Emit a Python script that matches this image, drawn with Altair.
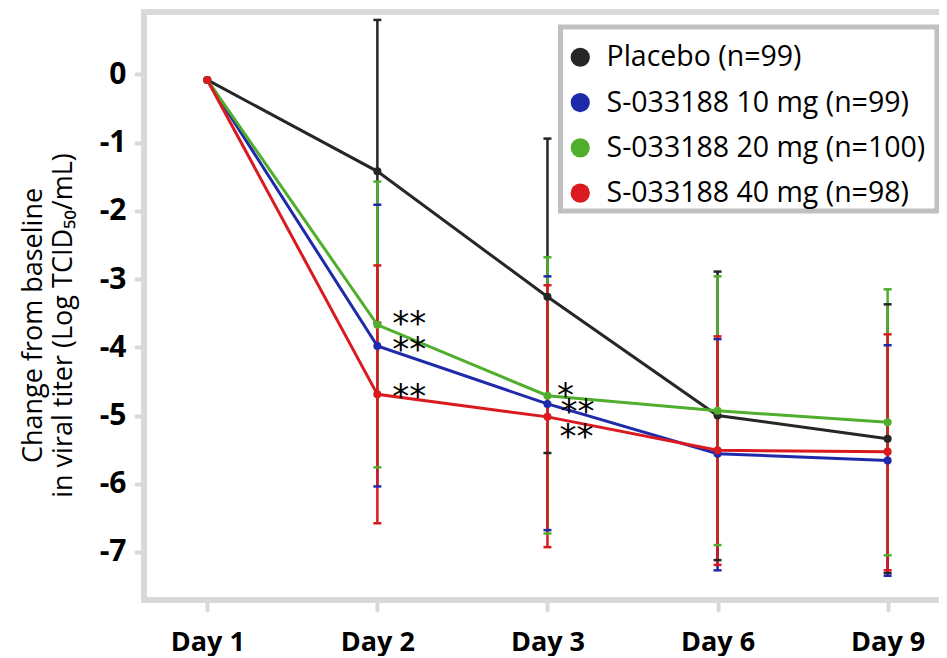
import json
import altair as alt
import pandas as pd

days = ["Day 1", "Day 2", "Day 3", "Day 6", "Day 9"]
groups = ["Placebo (n=99)", "S-033188 10 mg (n=99)", "S-033188 20 mg (n=100)", "S-033188 40 mg (n=98)"]
colors = ["#262626", "#1f2aab", "#4fae2b", "#da1a1f"]

placebo_mean = [-0.08, -1.42, -3.26, -5.00, -5.34]
placebo_lo = [None, -3.64, -5.55, -7.12, -7.31]
placebo_hi = [None, 0.80, -0.94, -2.89, -3.37]

mg10_mean = [-0.08, -3.98, -4.83, -5.56, -5.66]
mg10_lo = [None, -6.04, -6.68, -7.27, -7.35]
mg10_hi = [None, -1.91, -2.96, -3.88, -3.97]

mg20_mean = [-0.08, -3.67, -4.71, -4.93, -5.10]
mg20_lo = [None, -5.76, -6.73, -6.90, -7.05]
mg20_hi = [None, -1.57, -2.68, -2.96, -3.15]

mg40_mean = [-0.08, -4.69, -5.02, -5.51, -5.53]
mg40_lo = [None, -6.58, -6.93, -7.19, -7.27]
mg40_hi = [None, -2.80, -3.09, -3.84, -3.81]

y_ticks = [-7, -6, -5, -4, -3, -2, -1, 0]

ann_day = ["Day 2", "Day 2", "Day 2", "Day 3", "Day 3", "Day 3"]
ann_group = [groups[2], groups[1], groups[3], groups[2], groups[1], groups[3]]
ann_text = ["**", "**", "**", "*", "**", "**"]
# label offsets in pixels (style only)
ann_offsets = [(32, 10), (32, 15.5), (32, 14), (18, 11.5), (30, 19.5), (29, 31.5)]

series = [
    (groups[0], placebo_mean, placebo_lo, placebo_hi),
    (groups[1], mg10_mean, mg10_lo, mg10_hi),
    (groups[2], mg20_mean, mg20_lo, mg20_hi),
    (groups[3], mg40_mean, mg40_lo, mg40_hi),
]

rows = []
for gi, (g, mean, lo, hi) in enumerate(series):
    for i, d in enumerate(days):
        rows.append({"group": g, "order": gi, "day": d, "idx": i,
                     "mean": mean[i], "lo": lo[i], "hi": hi[i]})
df = pd.DataFrame(rows)
err = df.dropna(subset=["lo", "hi"])

W, H = 795, 588
xscale = alt.Scale(domain=[-0.372, 4.302], nice=False, zero=False)
yscale = alt.Scale(domain=[-7.705, 0.916], nice=False, zero=False)
cscale = alt.Scale(domain=groups, range=colors)

x_axis = alt.Axis(values=list(range(len(days))), labelExpr=f"{json.dumps(days)}[datum.value]",
                  title=None, domain=False, grid=False, labelFont="Open Sans", labelFontWeight="bold",
                  labelFontSize=27, labelColor="black", tickColor="#d9d9d9", tickWidth=4,
                  tickSize=10, tickCap="round", labelPadding=19)
y_axis = alt.Axis(values=y_ticks, labelExpr="'' + datum.value",
                  title=["Change from baseline", "in viral titer (Log TCID\u2085\u2080/mL)"],
                  domain=False, grid=False, labelFont="Open Sans", labelFontWeight="bold",
                  labelFontSize=30, labelColor="black", tickColor="#d9d9d9", tickWidth=4,
                  tickSize=8, tickCap="round", labelPadding=10,
                  titleFont="Open Sans", titleFontSize=27, titleFontWeight="normal",
                  titleColor="black", titleAngle=270, titleBaseline="top", titleAlign="center",
                  titleX=-124, titleY=313, titleLineHeight=30)

legend = alt.Legend(title=None, orient="none", legendX=422, legendY=31,
                    symbolType="circle", symbolSize=370, labelFont="Open Sans",
                    labelFontSize=28.5, labelColor="black", labelLimit=500,
                    padding=0, rowPadding=16.3, labelOffset=12,
                    symbolStrokeWidth=0, symbolOpacity=1)
C = alt.Color("group:N", scale=cscale, sort=groups, legend=legend)

X = alt.X("idx:Q", scale=xscale, axis=x_axis)
Y = alt.Y("mean:Q", scale=yscale, axis=y_axis)

rules = alt.Chart(err).mark_rule(strokeWidth=2.5, opacity=1).encode(
    x=X, y=alt.Y("lo:Q", scale=yscale, axis=y_axis), y2="hi:Q",
    color=C, order="order:Q")
tick_lo = alt.Chart(err).mark_tick(orient="horizontal", size=8, thickness=2.5, opacity=1).encode(
    x=X, y=alt.Y("lo:Q", scale=yscale, axis=y_axis), color=C, order="order:Q")
tick_hi = alt.Chart(err).mark_tick(orient="horizontal", size=8, thickness=2.5, opacity=1).encode(
    x=X, y=alt.Y("hi:Q", scale=yscale, axis=y_axis), color=C, order="order:Q")

lines = alt.Chart(df).mark_line(strokeWidth=3).encode(
    x=X, y=Y, color=C, detail="group:N", order="idx:Q")

points = alt.Chart(df).mark_point(filled=True, size=65, opacity=1, shape="circle").encode(
    x=X, y=Y, color=C, order="order:Q")

ann_layers = []
for d, g, t, (dx, dy) in zip(ann_day, ann_group, ann_text, ann_offsets):
    r = df[(df["day"] == d) & (df["group"] == g)].iloc[0]
    adf = pd.DataFrame({"idx": [r["idx"]], "mean": [r["mean"]], "txt": [t]})
    ann_layers.append(
        alt.Chart(adf).mark_text(font="DejaVu Sans", fontSize=34, color="black", align="center",
                                 baseline="alphabetic", dx=dx, dy=dy).encode(
            x=X, y=Y, text="txt:N"))

one = pd.DataFrame({"a": [0]})
frame_color = "#d9d9d9"
frame_left = alt.Chart(one).mark_rule(color=frame_color, strokeWidth=6, strokeCap="square").encode(
    x=alt.value(0), y=alt.value(0), y2=alt.value(H))
frame_top = alt.Chart(one).mark_rule(color=frame_color, strokeWidth=6, strokeCap="square").encode(
    x=alt.value(0), x2=alt.value(W), y=alt.value(0))
frame_bottom = alt.Chart(one).mark_rule(color=frame_color, strokeWidth=6, strokeCap="square").encode(
    x=alt.value(0), x2=alt.value(W), y=alt.value(H))

# legend frame (decoration)
legend_box = alt.Chart(one).mark_rect(fill="white", stroke="#c0c0c0", strokeWidth=5).encode(
    x=alt.value(416.5), x2=alt.value(793), y=alt.value(15), y2=alt.value(199))

chart = alt.layer(
    frame_left, frame_top, frame_bottom, rules, tick_lo, tick_hi, lines, points, *ann_layers,
    legend_box
).properties(
    width=W, height=H,
    autosize=alt.AutoSizeParams(type="none"),
    padding={"left": 136, "top": 4, "right": 0, "bottom": 56},
).configure_view(stroke=None)

chart.save("out.html", embed_options={"renderer": "svg", "actions": False})
